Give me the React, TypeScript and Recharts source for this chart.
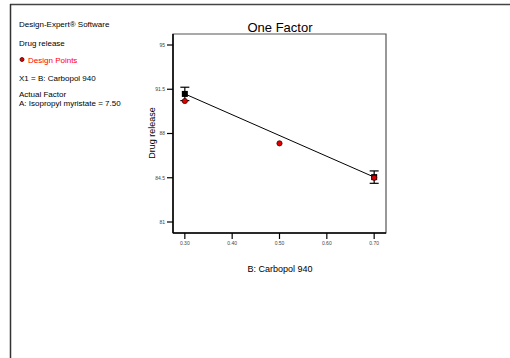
import React from "react";
import {
  ComposedChart,
  Line,
  Scatter,
  XAxis,
  YAxis,
  ErrorBar,
  ReferenceArea,
} from "recharts";

const xTicks = [0.3, 0.4, 0.5, 0.6, 0.7];
const yTicks = [81, 84.5, 88, 91.5, 95];

const designX = [0.3, 0.5, 0.7];
const designY = [90.57, 87.22, 84.5];

const predX = [0.3, 0.7];
const predY = [91.13, 84.55];
const predErr = [0.53, 0.49];

const designData = designX.map((x, i) => ({ x, y: designY[i] }));
const predData = predX.map((x, i) => ({ x, y: predY[i], err: predErr[i] }));

const X_DOMAIN: [number, number] = [0.275, 0.725];
const Y_DOMAIN: [number, number] = [80.13, 95.87];

const FONT = "'Liberation Sans', Arial, sans-serif";

const SquareDot = (props: any) => {
  const { cx, cy } = props;
  if (cx == null || cy == null) return null;
  return <rect x={cx - 3} y={cy - 3} width={6} height={6} fill="#000" />;
};

const RedDot = (props: any) => {
  const { cx, cy } = props;
  if (cx == null || cy == null) return null;
  return <circle cx={cx} cy={cy} r={2.6} fill="#e00000" stroke="#400000" strokeWidth={0.8} />;
};

export default function App() {
  return (
    <div style={{ position: "absolute", left: 0, top: 0, width: 510, height: 358, background: "#fff" }}>
      <ComposedChart
        width={510}
        height={358}
        margin={{ top: 34, right: 124, bottom: 95, left: 143 }}
        style={{ fontFamily: FONT }}
      >
        <XAxis
          dataKey="x"
          type="number"
          domain={X_DOMAIN}
          ticks={xTicks}
          tickFormatter={(v: number) => v.toFixed(2)}
          allowDataOverflow
          height={30}
          stroke="#000"
          axisLine={{ stroke: "#000", strokeWidth: 1.5 }}
          tickLine={{ stroke: "#000", strokeWidth: 1.2 }}
          tickSize={6}
          tick={{ fontSize: 5, fill: "#444" }}
        />
        <YAxis
          dataKey="y"
          type="number"
          domain={Y_DOMAIN}
          ticks={yTicks}
          allowDataOverflow
          width={30}
          stroke="#000"
          axisLine={{ stroke: "#000", strokeWidth: 1.5 }}
          tickLine={{ stroke: "#000", strokeWidth: 1.2 }}
          tickSize={6}
          tick={{ fontSize: 5, fill: "#444" }}
        />
        <ReferenceArea
          x1={X_DOMAIN[0]}
          x2={X_DOMAIN[1]}
          y1={Y_DOMAIN[0]}
          y2={Y_DOMAIN[1]}
          fill="none"
          stroke="#555"
          strokeWidth={1.2}
        />
        <Line
          data={predData}
          dataKey="y"
          type="linear"
          stroke="#000"
          strokeWidth={1}
          dot={<SquareDot />}
          activeDot={false}
          isAnimationActive={false}
        >
          <ErrorBar dataKey="err" direction="y" width={4.5} stroke="#000" strokeWidth={1.2} />
        </Line>
        <Scatter
          data={designData}
          dataKey="y"
          shape={<RedDot />}
          isAnimationActive={false}
        />
      </ComposedChart>
      <svg
        width={510}
        height={358}
        style={{ position: "absolute", left: 0, top: 0, pointerEvents: "none", fontFamily: FONT }}
      >
        <line x1={10} y1={4.5} x2={510} y2={4.5} stroke="#444" strokeWidth={1.5} />
        <line x1={10.5} y1={4} x2={10.5} y2={358} stroke="#333" strokeWidth={1.5} />
        <text x={19} y={27} fontSize={8} fill="#000">Design-Expert® Software</text>
        <text x={19} y={45.5} fontSize={8} fill="#000">Drug release</text>
        <circle cx={22} cy={59.5} r={2} fill="#e00000" stroke="#400000" strokeWidth={0.8} />
        <text x={28} y={62.5} fontSize={8} fill="#ff0000">Design Points</text>
        <text x={19} y={81} fontSize={8} fill="#000">X1 = B: Carbopol 940</text>
        <text x={19} y={97} fontSize={8} fill="#000">Actual Factor</text>
        <text x={19} y={106} fontSize={8} fill="#000">A: Isopropyl myristate = 7.50</text>
        <text x={280} y={31.5} fontSize={13} textAnchor="middle" fill="#000">One Factor</text>
        <text x={280} y={272} fontSize={9} textAnchor="middle" fill="#000">B: Carbopol 940</text>
        <text
          x={0}
          y={0}
          fontSize={9}
          textAnchor="middle"
          fill="#000"
          transform="translate(155,133) rotate(-90)"
        >
          Drug release
        </text>
      </svg>
    </div>
  );
}
